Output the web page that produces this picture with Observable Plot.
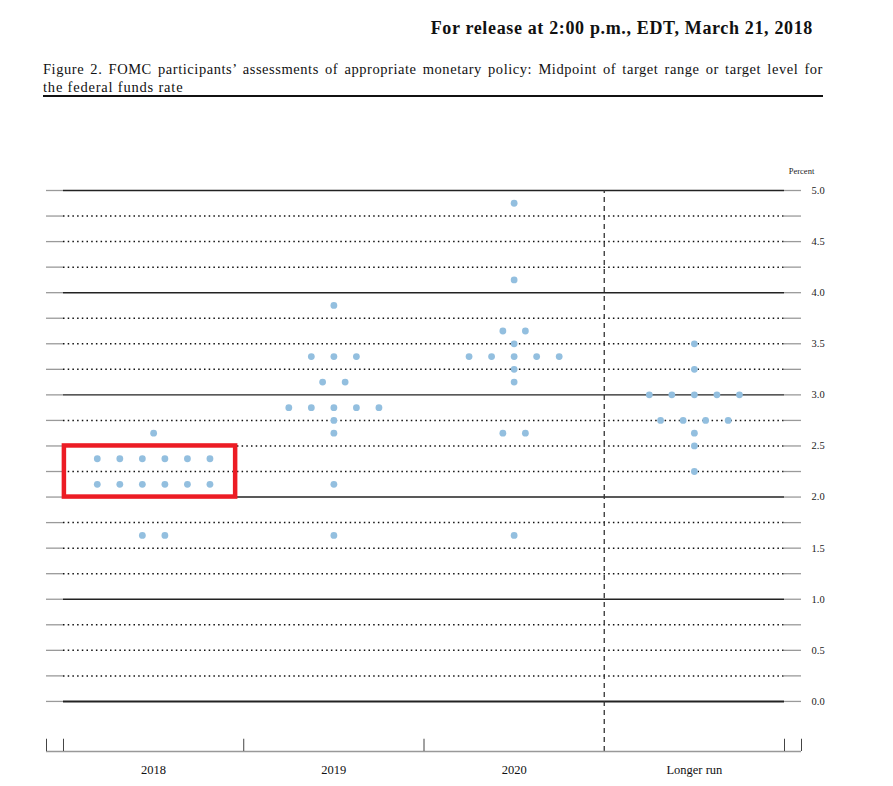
<!DOCTYPE html>
<html>
<head>
<meta charset="utf-8">
<script src="https://cdn.jsdelivr.net/npm/d3@7"></script>
<script src="https://cdn.jsdelivr.net/npm/@observablehq/plot@0.6"></script>
<style>
  html, body { margin: 0; padding: 0; background: #fff; }
  body { width: 893px; height: 786px; overflow: hidden; position: relative; font-family: "Liberation Serif", "DejaVu Serif", serif; color: #111; }
  #release { position: absolute; right: 80px; top: 18px; font-weight: bold; font-size: 18px; letter-spacing: 0.65px; white-space: nowrap; }
  #caption { position: absolute; left: 43px; top: 60px; width: 780px; font-size: 14.5px; letter-spacing: 0.8px; line-height: 18px; }
  #caption .l1 { text-align: justify; text-align-last: justify; white-space: nowrap; letter-spacing: 0.55px; }
  #rule { position: absolute; left: 43px; top: 95px; width: 780px; height: 2px; background: #111; }
  #chart { position: absolute; left: 0; top: 150px; }
</style>
</head>
<body>
<div id="release">For release at 2:00 p.m., EDT, March 21, 2018</div>
<div id="caption">
  <div class="l1">Figure 2. FOMC participants’ assessments of appropriate monetary policy: Midpoint of target range or target level for</div>
  <div>the federal funds rate</div>
</div>
<div id="rule"></div>
<div id="chart"></div>
<script>
// ---- Data (midpoints, one entry per participant) ----
const categories = ["2018", "2019", "2020", "Longer run"];
const dots2018 = [2.625, 2.375, 2.375, 2.375, 2.375, 2.375, 2.375, 2.125, 2.125, 2.125, 2.125, 2.125, 2.125, 1.625, 1.625];
const dots2019 = [3.875, 3.375, 3.375, 3.375, 3.125, 3.125, 2.875, 2.875, 2.875, 2.875, 2.875, 2.75, 2.625, 2.125, 1.625];
const dots2020 = [4.875, 4.125, 3.625, 3.625, 3.5, 3.375, 3.375, 3.375, 3.375, 3.375, 3.25, 3.125, 2.625, 2.625, 1.625];
const dotsLongerRun = [3.5, 3.25, 3.0, 3.0, 3.0, 3.0, 3.0, 2.75, 2.75, 2.75, 2.75, 2.625, 2.5, 2.25];
const yTickLabels = [0, 0.5, 1.0, 1.5, 2.0, 2.5, 3.0, 3.5, 4.0, 4.5, 5.0];
const gridMajor = [0, 1, 2, 3, 4, 5];
const gridMinor = [0.25, 0.5, 0.75, 1.25, 1.5, 1.75, 2.25, 2.5, 2.75, 3.25, 3.5, 3.75, 4.25, 4.5, 4.75];
const highlight = {x1: 0.005, x2: 0.955, y1: 2.0, y2: 2.5};

// ---- Build table: dots in each row spread horizontally around the column centre ----
const series = [dots2018, dots2019, dots2020, dotsLongerRun];
const dotRows = [];
series.forEach((vals, c) => {
  const groups = d3.group(vals, v => v);
  for (const [v, arr] of groups) {
    const n = arr.length;
    arr.forEach((_, k) => dotRows.push({category: categories[c], col: c, value: v, slot: k - (n - 1) / 2}));
  }
});
const STEP = 0.125; // spacing between dots in a row (column units)
dotRows.forEach(d => d.x = d.col + 0.5 + d.slot * STEP);

const xMin = -0.0943, xMax = 4.0943;
const yMin = -0.49, yMax = 5.0;
const catRows = categories.map((c, i) => ({label: c, x: i + 0.5}));
const tickXs = [xMin, 0, 1, 2, 4, xMax];

const chart = Plot.plot({
  width: 893,
  height: 630,
  marginLeft: 46,
  marginRight: 92,
  marginTop: 40,
  marginBottom: 29,
  style: {fontFamily: "'Liberation Serif', serif", background: "transparent"},
  x: {domain: [xMin, xMax], axis: null},
  y: {domain: [yMin, yMax], axis: null},
  marks: [
    // gray end stubs of grid lines
    Plot.ruleY([...gridMajor, ...gridMinor], {x1: xMin, x2: 0, stroke: "#9a9a9a", strokeWidth: 1.3}),
    Plot.ruleY([...gridMajor, ...gridMinor], {x1: 4, x2: xMax, stroke: "#9a9a9a", strokeWidth: 1.3}),
    // dotted minor lines
    Plot.ruleY(gridMinor, {x1: 0, x2: 4, stroke: "#111", strokeWidth: 1.5, strokeDasharray: "1.5,3.2"}),
    // solid major lines
    Plot.ruleY(gridMajor, {x1: 0, x2: 4, stroke: "#222", strokeWidth: d => d === 0 ? 2 : 1.4}),
    // vertical dashed separator
    Plot.ruleX([3], {y1: yMin, y2: yMax, stroke: "#333", strokeWidth: 1.3, strokeDasharray: "5,4"}),
    // bottom axis line & ticks
    Plot.ruleY([yMin], {x1: xMin, x2: xMax, stroke: "#999", strokeWidth: 1.3}),
    Plot.ruleX(tickXs, {y1: yMin, y2: yMin + 0.12, stroke: "#444", strokeWidth: 1}),
    // category labels
    Plot.text(catRows, {x: "x", y: yMin, text: "label", dy: 18, fontSize: 12.5, fill: "#111"}),
    // right axis labels
    Plot.axisY({anchor: "right", ticks: yTickLabels, tickSize: 0, tickPadding: 10, tickFormat: d => d.toFixed(1), fontSize: 10.5, color: "#222", label: null}),
    Plot.text(["Percent"], {x: xMax, y: yMax, dy: -19, text: d => d, fontSize: 8.5, fill: "#222"}),
    // dots
    Plot.dot(dotRows, {x: "x", y: "value", r: 3.4, fill: "#93bfdf", stroke: "none"}),
    // highlight box
    Plot.rect([highlight], {x1: "x1", x2: "x2", y1: "y1", y2: "y2", fill: "none", stroke: "#ec1c24", strokeWidth: 4.5})
  ]
});
document.getElementById("chart").appendChild(chart);
</script>
</body>
</html>
